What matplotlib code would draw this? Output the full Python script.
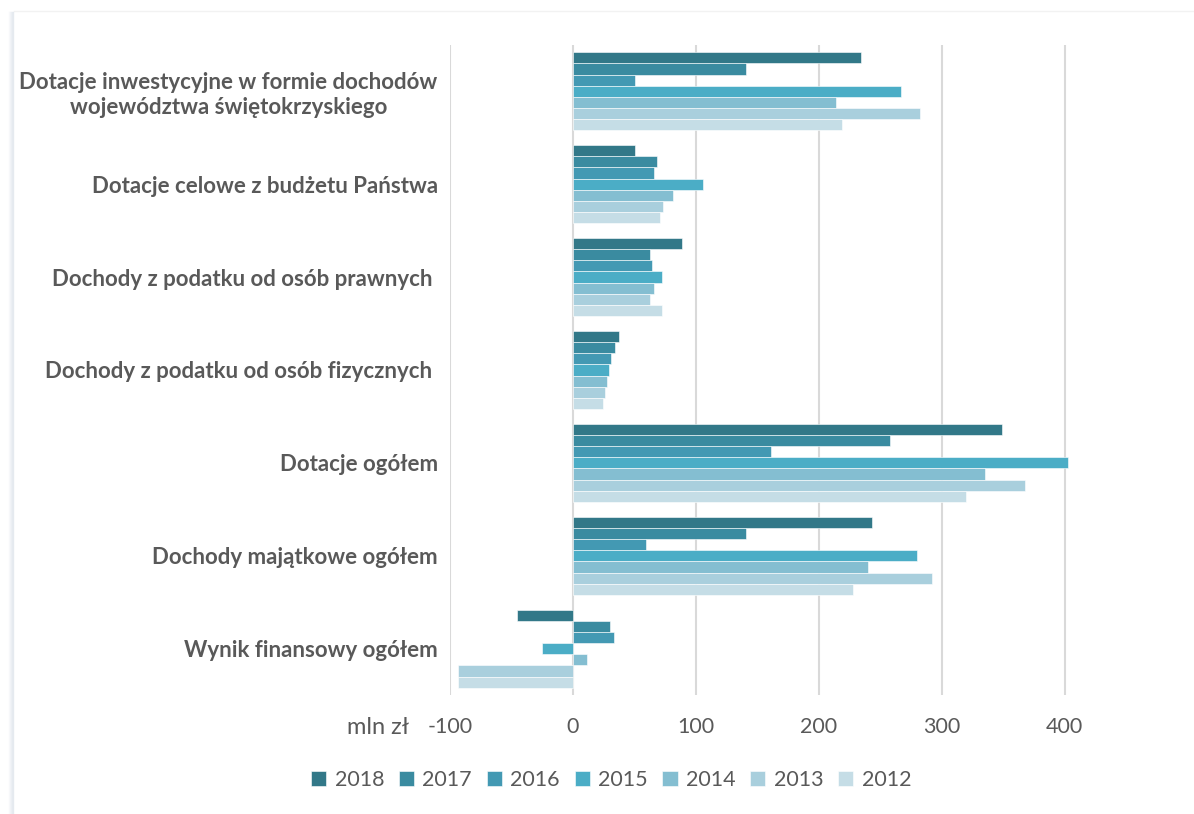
import matplotlib.pyplot as plt
import numpy as np
from matplotlib.lines import Line2D

categories = [
    "Dotacje inwestycyjne w formie dochodów\nwojewództwa świętokrzyskiego",
    "Dotacje celowe z budżetu Państwa",
    "Dochody z podatku od osób prawnych ",
    "Dochody z podatku od osób fizycznych ",
    "Dotacje ogółem",
    "Dochody majątkowe ogółem",
    "Wynik finansowy ogółem",
]
years = ["2018", "2017", "2016", "2015", "2014", "2013", "2012"]

# values per year, in category order (mln zł)
v2018 = [234, 50, 89, 37, 349, 243, -46]
v2017 = [141, 68, 63, 34, 258, 141, 30]
v2016 = [50, 66, 64, 31, 161, 59, 33]
v2015 = [267, 106, 72, 29, 403, 280, -25]
v2014 = [214, 81, 66, 28, 335, 240, 11]
v2013 = [282, 73, 63, 26, 368, 292, -94]
v2012 = [219, 71, 72, 24, 320, 228, -94]
series = [v2018, v2017, v2016, v2015, v2014, v2013, v2012]

colors = ["#327888", "#3A8BA0", "#4399B3", "#4BADC6", "#84BED1", "#A9CFDD", "#C5DDE6"]

plt.rcParams['font.family'] = ['Lato', 'DejaVu Sans']
plt.rcParams['axes.unicode_minus'] = False
text_col = "#595959"

fig = plt.figure(figsize=(11.94, 8.14), dpi=100)

# faint card border / shadow
fig.add_artist(Line2D([14 / 1194, 1], [1 - 11 / 814] * 2, transform=fig.transFigure,
                      color="#F2F2F2", linewidth=1))
for k, a in enumerate([0.05, 0.08, 0.12, 0.16, 0.2]):
    x = (9 + k) / 1194
    fig.add_artist(Line2D([x, x], [0, 1 - 12 / 814], transform=fig.transFigure,
                          color="#8FA3BF", alpha=a, linewidth=1))

ax = fig.add_axes([0.377, 0.146, 0.525, 0.799])

n = len(categories)
group_w = 0.84
bar_h = group_w / len(years)
y0 = np.arange(n)
for i, (yr, vals, c) in enumerate(zip(years, series, colors)):
    ypos = y0 - group_w / 2 + bar_h * (i + 0.5)
    ax.barh(ypos, vals, height=bar_h, color=c, edgecolor="white", linewidth=0.4, label=yr, zorder=3)

ax.set_ylim(n - 0.5, -0.5)
ax.set_xlim(-100, 410)
ax.set_xticks([-100, 0, 100, 200, 300, 400])
ax.set_yticks(y0)
ax.set_yticklabels(categories, fontsize=16, fontweight="bold", color=text_col,
                   multialignment="center")
ax.tick_params(axis="y", length=0, pad=9)
ax.tick_params(axis="x", length=0, labelsize=15.5, labelcolor=text_col, pad=16)
ax.grid(axis="x", color="#D9D9D9", linewidth=1.5, zorder=0)
for s in ax.spines.values():
    s.set_visible(False)

fig.text(347 / 1194, 1 - 727 / 814, "mln zł", fontsize=17, color=text_col,
         ha="left", va="center")

ax.legend(loc="center", bbox_to_anchor=(0.257, -0.131), ncol=7, frameon=False,
          fontsize=15.5, labelcolor=text_col, handlelength=0.7, handleheight=0.7,
          handletextpad=0.4, columnspacing=0.68)

fig.savefig("out.png", dpi=100)
